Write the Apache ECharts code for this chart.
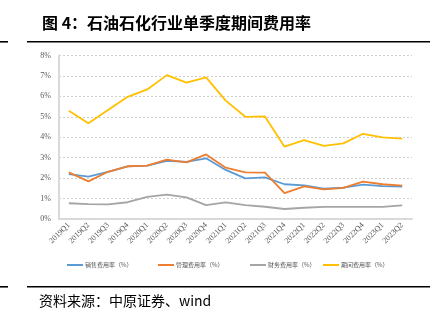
<!DOCTYPE html>
<html>
<head>
<meta charset="utf-8">
<script src="https://cdn.jsdelivr.net/npm/echarts@6/dist/echarts.min.js"></script>
<style>
html,body{margin:0;padding:0;background:#fff;}
#chart{width:441px;height:325px;}
</style>
</head>
<body>
<div id="chart"></div>
<script>
// Quarterly categories
const quarters = ['2019Q1','2019Q2','2019Q3','2019Q4','2020Q1','2020Q2','2020Q3','2020Q4',
  '2021Q1','2021Q2','2021Q3','2021Q4','2022Q1','2022Q2','2022Q3','2022Q4','2023Q1','2023Q2'];

// Expense ratios (%)
const salesRate   = [2.20,2.07,2.31,2.57,2.61,2.85,2.80,2.97,2.40,1.99,2.04,1.70,1.65,1.48,1.54,1.68,1.61,1.58];
const adminRate   = [2.28,1.84,2.31,2.58,2.61,2.90,2.77,3.16,2.51,2.28,2.27,1.27,1.60,1.45,1.52,1.83,1.70,1.63];
const financeRate = [0.77,0.73,0.72,0.82,1.08,1.19,1.06,0.68,0.81,0.68,0.60,0.49,0.55,0.59,0.59,0.59,0.59,0.67];
const periodRate  = [5.30,4.68,5.33,5.98,6.34,7.04,6.67,6.93,5.79,5.00,5.02,3.54,3.86,3.58,3.70,4.17,3.99,3.93];

const seriesNames = ['销售费用率（%）','管理费用率（%）','财务费用率（%）','期间费用率（%）'];
const seriesColors = ['#5b9bd5','#ed7d31','#a5a5a5','#ffc000'];
const seriesData = [salesRate, adminRate, financeRate, periodRate];

const yTicks = [0,1,2,3,4,5,6,7,8];

// one legend block per series so each entry sits at its own x position
const legendLeft = [62, 153, 245, 318];

const chart = echarts.init(document.getElementById('chart'), null, {renderer:'canvas'});
chart.setOption({
  backgroundColor:'#fff',
  animation:false,
  title:{
    text:'图 4：石油石化行业单季度期间费用率',
    left:37, top:10,
    textStyle:{fontFamily:'Noto Sans CJK SC', fontSize:16, fontWeight:'bold', color:'#000'}
  },
  graphic:[
    {type:'rect', shape:{x:0,y:41,width:8,height:1.6}, style:{fill:'#000'}},
    {type:'rect', shape:{x:27,y:41,width:403,height:1.6}, style:{fill:'#000'}},
    {type:'rect', shape:{x:0,y:286,width:8,height:1.6}, style:{fill:'#000'}},
    {type:'rect', shape:{x:27,y:286,width:403,height:1.6}, style:{fill:'#000'}},
    {type:'text', left:39, top:294,
      style:{text:'资料来源：中原证券、wind', fill:'#000',
        font:'14px "Noto Sans CJK SC"'}}
  ],
  legend: seriesNames.map((n,i)=>({
    data:[n],
    left:legendLeft[i], top:257,
    itemWidth:16, itemHeight:2, itemGap:0,
    icon:'rect',
    textStyle:{fontFamily:'Noto Sans CJK SC', fontSize:6, color:'#595959', padding:[0,0,0,-3]}
  })),
  grid:{left:59, right:29, top:55.5, bottom:106, containLabel:false},
  xAxis:{
    type:'category',
    data:quarters,
    boundaryGap:true,
    axisLine:{lineStyle:{color:'#d9d9d9', width:2}},
    axisTick:{show:false},
    axisLabel:{rotate:45, fontFamily:'Liberation Serif', fontSize:8, color:'#595959', margin:5, interval:0}
  },
  yAxis:{
    type:'value',
    min:yTicks[0], max:yTicks[yTicks.length-1], interval:1,
    axisLine:{show:true, lineStyle:{color:'#d9d9d9', width:2}},
    axisTick:{show:false},
    splitLine:{lineStyle:{color:'#d0d0d0', type:[2,2], width:1}},
    axisLabel:{formatter:v=>v+'%', fontFamily:'Liberation Serif', fontSize:8, color:'#595959', margin:8}
  },
  series: seriesData.map((d,i)=>({
    name:seriesNames[i],
    type:'line',
    data:d,
    symbol:'none',
    lineStyle:{width:1.8, color:seriesColors[i]},
    itemStyle:{color:seriesColors[i]},
    z:i===3?4:(i===2?1:(i===1?3:2))
  }))
});
</script>
</body>
</html>
